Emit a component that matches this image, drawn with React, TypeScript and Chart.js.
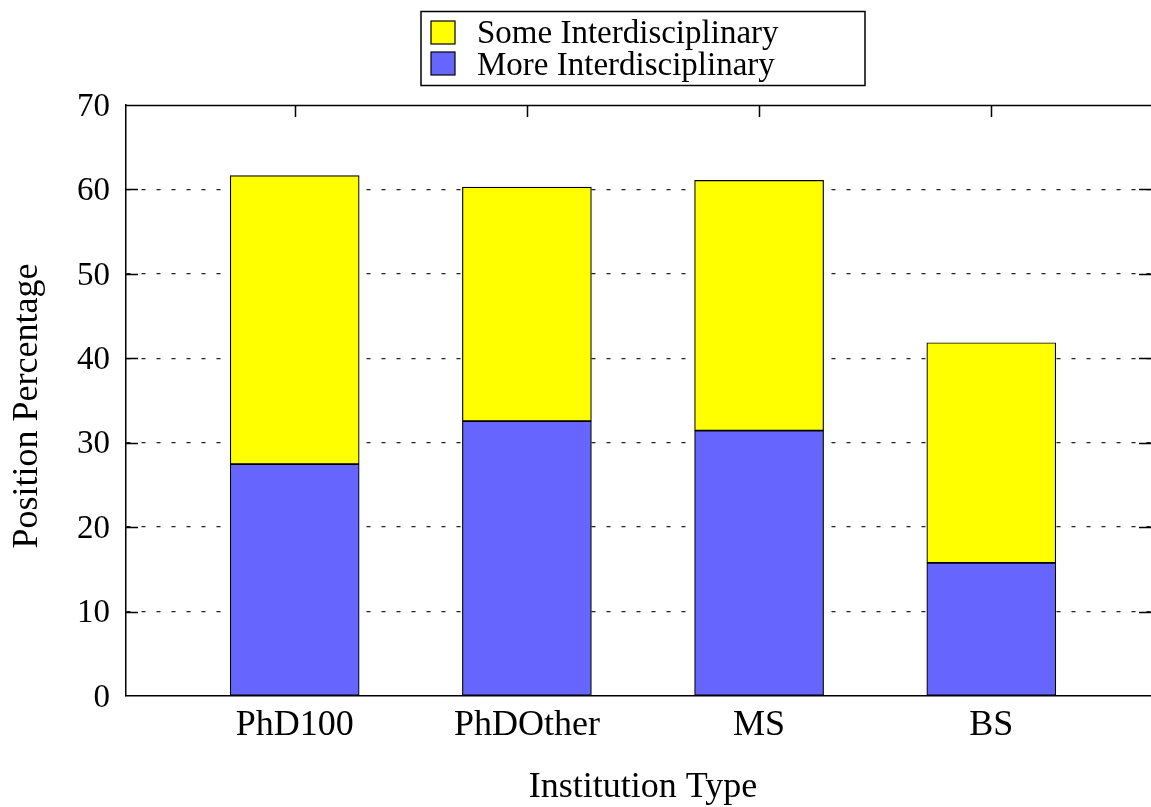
import React, { useEffect, useRef } from "react";
import { Chart, registerables } from "chart.js";

Chart.register(...registerables);

const categories = ["PhD100", "PhDOther", "MS", "BS"];
const moreInterdisciplinary = [27.47, 32.55, 31.44, 15.77];
const someInterdisciplinary = [34.16, 27.73, 29.63, 26.07];
const yTicks = [0, 10, 20, 30, 40, 50, 60, 70];

const FONT = "Liberation Serif";
const FS = 33;
const FS_BIG = 36;

const legendLabels = ["Some Interdisciplinary", "More Interdisciplinary"];
const colors = { some: "#ffff00", more: "#6666ff" };

export default function App() {
  const ref = useRef<HTMLCanvasElement | null>(null);

  useEffect(() => {
    const canvas = ref.current;
    if (!canvas) return;

    const decor = {
      id: "decor",
      beforeDatasetsDraw(chart: any) {
        const { ctx, chartArea } = chart;
        const { left, right, top, bottom } = chartArea;
        const ys = chart.scales.y;
        const xs = chart.scales.x;
        ctx.save();
        ctx.strokeStyle = "#000";
        ctx.lineWidth = 1.5;
        ctx.beginPath();
        yTicks.forEach((v) => {
          if (v === 0 || v === 70) return;
          const py = Math.round(ys.getPixelForValue(v)) + 0.5;
          ctx.moveTo(left, py);
          ctx.lineTo(left + 12, py);
          ctx.moveTo(right - 12, py);
          ctx.lineTo(right, py);
        });
        categories.forEach((_, i) => {
          const px = Math.round(xs.getPixelForValue(i)) + 0.5;
          ctx.moveTo(px, bottom);
          ctx.lineTo(px, bottom - 12);
          ctx.moveTo(px, top);
          ctx.lineTo(px, top + 12);
        });
        ctx.stroke();
        ctx.beginPath();
        ctx.moveTo(left, Math.round(top) + 0.5);
        ctx.lineTo(right, Math.round(top) + 0.5);
        ctx.stroke();
        ctx.restore();
      },
      afterDraw(chart: any) {
        const { ctx } = chart;
        ctx.save();
        ctx.fillStyle = "#000";
        ctx.font = `${FS_BIG}px "${FONT}"`;
        ctx.textAlign = "center";
        ctx.textBaseline = "alphabetic";
        ctx.fillText("Institution Type", 643, 797);
        ctx.save();
        ctx.translate(37, 406);
        ctx.rotate(-Math.PI / 2);
        ctx.fillText("Position Percentage", 0, 0);
        ctx.restore();
        // legend
        ctx.font = `${FS}px "${FONT}"`;
        ctx.lineWidth = 1.5;
        ctx.strokeStyle = "#000";
        ctx.strokeRect(421, 11.5, 444, 74);
        const sw = [colors.some, colors.more];
        const swY = [21, 52];
        const baseY = [43, 75];
        ctx.textAlign = "left";
        ctx.lineWidth = 1.2;
        for (let i = 0; i < 2; i++) {
          ctx.fillStyle = sw[i];
          ctx.fillRect(431, swY[i], 24, 23);
          ctx.strokeRect(431, swY[i], 24, 23);
          ctx.fillStyle = "#000";
          ctx.fillText(legendLabels[i], 477, baseY[i]);
        }
        ctx.restore();
      },
    };

    const chart = new Chart(canvas, {
      type: "bar",
      data: {
        datasets: [
          {
            label: "More Interdisciplinary",
            data: moreInterdisciplinary.map((v, i) => ({ x: i, y: v })),
            backgroundColor: colors.more,
            borderColor: "#000",
            borderWidth: 1.2,
            borderSkipped: false,
            barThickness: 129,
          },
          {
            label: "Some Interdisciplinary",
            data: someInterdisciplinary.map((v, i) => ({ x: i, y: v })),
            backgroundColor: colors.some,
            borderColor: "#000",
            borderWidth: 1.2,
            borderSkipped: false,
            barThickness: 129,
          },
        ],
      },
      options: {
        responsive: false,
        animation: false,
        layout: { padding: { top: 105, right: 0, left: 0, bottom: 0 } },
        plugins: {
          legend: { display: false },
          tooltip: { enabled: false },
        },
        scales: {
          x: {
            type: "linear",
            stacked: true,
            offset: false,
            min: -0.7265,
            max: 3.6878,
            afterBuildTicks: (scale: any) => {
              scale.ticks = categories.map((_, i) => ({ value: i }));
            },
            afterFit: (scale: any) => {
              scale.height = 111;
            },
            grid: { display: false, drawTicks: false, offset: false },
            border: { display: true, color: "#000", width: 1.5 },
            ticks: {
              padding: 8,
              color: "#000",
              font: { family: FONT, size: FS_BIG },
              maxRotation: 0,
              autoSkip: false,
              callback: (v: any) => categories[Number(v)] ?? "",
            },
          },
          y: {
            type: "linear",
            stacked: true,
            min: 0,
            max: 70,
            afterBuildTicks: (scale: any) => {
              scale.ticks = yTicks.map((v) => ({ value: v }));
            },
            afterFit: (scale: any) => {
              scale.width = 126;
            },
            grid: {
              drawTicks: false,
              lineWidth: 1.3,
              color: (c: any) =>
                c.tick && (c.tick.value === 0 || c.tick.value === 70)
                  ? "rgba(0,0,0,0)"
                  : "#222",
            },
            border: { display: true, color: "#000", width: 1.5, dash: [4, 11] },
            ticks: {
              padding: 16,
              labelOffset: 2,
              color: "#000",
              font: { family: FONT, size: FS },
            },
          },
        },
      },
      plugins: [decor],
    });

    return () => chart.destroy();
  }, []);

  return (
    <div style={{ position: "fixed", left: 0, top: 0, width: 1151, height: 807, background: "#fff" }}>
      <canvas ref={ref} width={1151} height={807} style={{ display: "block" }} />
    </div>
  );
}
